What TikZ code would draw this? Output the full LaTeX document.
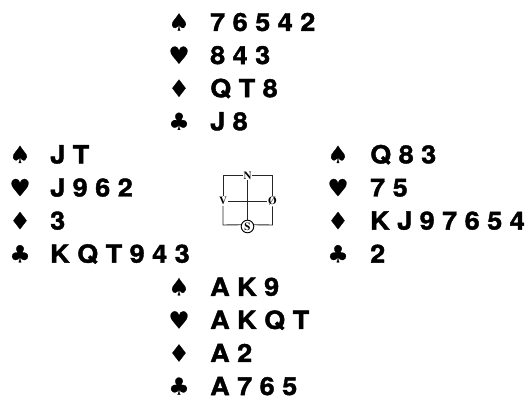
\documentclass[tikz,border=0pt]{standalone}
\usepackage{fontspec}
\setmainfont{Liberation Sans}
\newfontfamily\cardfont[FakeStretch=1.08,FakeBold=1.6]{TeX Gyre Heros}
\newfontfamily\suitfont[FakeBold=1]{DejaVu Sans}
\newfontfamily\compfont{TeX Gyre Termes}
\tikzset{
  suit/.style={inner sep=0pt, font=\suitfont\fontsize{23.5}{24}\selectfont},
  cards/.style={inner sep=0pt, anchor=base west, font=\cardfont\bfseries\fontsize{25}{25}\selectfont},
  dir/.style={inner sep=0.8pt, font=\compfont\bfseries\fontsize{11}{11}\selectfont},
  compline/.style={line width=0.9pt, black!85}
}
\newcommand\bridgehand[8]{%
  \pgfmathsetmacro\rya{22+33.1*#4}%
  \pgfmathsetmacro\ryb{22+33.1*(#4+1)}%
  \pgfmathsetmacro\ryc{22+33.1*(#4+2)}%
  \pgfmathsetmacro\ryd{22+33.1*(#4+3)}%
  \node[suit] (#1S) at (#2,\rya) {♠};
  \node[cards] (#1St) at (#3,\rya+9) {#5};
  \node[suit] (#1H) at (#2,\ryb) {♥};
  \node[cards] (#1Ht) at (#3,\ryb+9) {#6};
  \node[suit] (#1D) at (#2,\ryc) {♦};
  \node[cards] (#1Dt) at (#3,\ryc+9) {#7};
  \node[suit] (#1C) at (#2,\ryd) {♣};
  \node[cards] (#1Ct) at (#3,\ryd+9) {#8};
}
\begin{document}
\begin{tikzpicture}[x=1pt,y=-1pt]
\useasboundingbox (0,0) rectangle (531,401);
\bridgehand{north}{179}{210}{0}{7 6 5 4 2}{8 4 3}{Q T 8}{J 8}
\bridgehand{west}{20}{50}{4}{J T}{J 9 6 2}{3}{K Q T 9 4 3}
\bridgehand{east}{338}{370}{4}{Q 8 3}{7 5}{K J 9 7 6 5 4}{2}
\bridgehand{south}{179}{210}{8}{A K 9}{A K Q T}{A 2}{A 7 6 5}
% compass
\node[dir] (N) at (247.5,175.5) {N};
\node[dir] (V) at (223,201) {V};
\node[dir] (O) at (272.5,201) {Ø};
\node[dir, draw, line width=0.9pt, circle, inner sep=0pt, minimum size=12.6pt] (S) at (247.5,226.5) {S};
\coordinate (tl) at (223,175.5);
\coordinate (tr) at (272.5,175.5);
\coordinate (bl) at (223,225);
\coordinate (br) at (272.5,225);
\draw[compline] (N.west) -- (tl) -- (V.north);
\draw[compline] (N.east) -- (tr) -- (O.north);
\draw[compline] (V.south) -- (bl) -- (S.165);
\draw[compline] (O.south) -- (br) -- (S.15);
\draw[compline] (N.south) -- (S.north);
\draw[compline] (V.east) -- (O.west);
\end{tikzpicture}
\end{document}
